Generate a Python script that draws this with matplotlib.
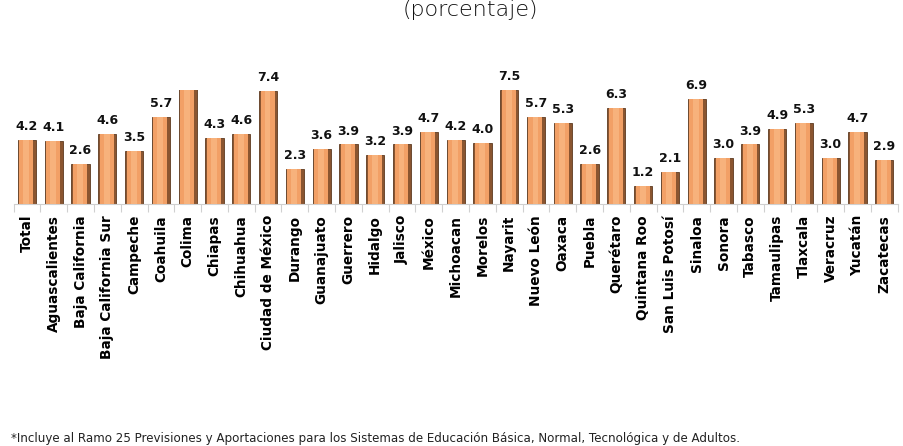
import matplotlib.pyplot as plt
import matplotlib.ticker as mticker
import numpy as np

# Entidades y valores (porcentaje)
entidades = ['Total', 'Aguascalientes', 'Baja California', 'Baja California Sur',
             'Campeche', 'Coahuila', 'Colima', 'Chiapas', 'Chihuahua',
             'Ciudad de México', 'Durango', 'Guanajuato', 'Guerrero', 'Hidalgo',
             'Jalisco', 'México', 'Michoacan', 'Morelos', 'Nayarit', 'Nuevo León',
             'Oaxaca', 'Puebla', 'Querétaro', 'Quintana Roo', 'San Luis Potosí',
             'Sinaloa', 'Sonora', 'Tabasco', 'Tamaulipas', 'Tlaxcala', 'Veracruz',
             'Yucatán', 'Zacatecas']
valores = [4.2, 4.1, 2.6, 4.6, 3.5, 5.7, 9.8, 4.3, 4.6, 7.4, 2.3, 3.6, 3.9, 3.2,
           3.9, 4.7, 4.2, 4.0, 7.5, 5.7, 5.3, 2.6, 6.3, 1.2, 2.1, 6.9, 3.0, 3.9,
           4.9, 5.3, 3.0, 4.7, 2.9]
# Colima se sale de la escala en el original: sin etiqueta
sin_etiqueta = ['Colima']
y_max = 7.5

fig = plt.figure(figsize=(9.04, 4.46), dpi=100)
ax = fig.add_axes([0.0150, 0.543, 0.978, 0.256])

x = np.arange(len(entidades))
# barra base (borde oscuro) + cuerpo claro para simular el bisel
ax.bar(x, valores, width=0.68, color='#8a5530', edgecolor='#5e3a20', linewidth=0.6, zorder=2)
ax.bar(x - 0.02, valores, width=0.52, color='#f2a066', linewidth=0, zorder=3)
ax.bar(x - 0.02, valores, width=0.22, color='#f7b27c', linewidth=0, zorder=4)

for xi, v, nombre in zip(x, valores, entidades):
    if nombre in sin_etiqueta:
        continue
    ax.annotate(f'{v:.1f}', (xi, v), xytext=(0, 5), textcoords='offset points',
                ha='center', va='bottom', fontsize=9, fontweight='bold',
                color='#111111', annotation_clip=False, clip_on=False)

ax.set_xlim(-0.5, len(entidades) - 0.5)
ax.set_ylim(0, y_max)
ax.set_yticks([])
ax.set_xticks(x)
ax.set_xticklabels(entidades, rotation=90, fontsize=9.8, fontweight='bold')
ax.tick_params(axis='x', which='major', length=0, pad=8)
ax.xaxis.set_minor_locator(mticker.FixedLocator(np.arange(-0.5, len(entidades), 1)))
ax.tick_params(axis='x', which='minor', length=6, color='#d0d0d0', width=0.8)
for s in ['top', 'right', 'left']:
    ax.spines[s].set_visible(False)
ax.spines['bottom'].set_color('#d0d0d0')
ax.spines['bottom'].set_linewidth(0.8)

fig.text(0.52, 1.0, '(porcentaje)', ha='center', va='top', fontsize=16,
         color='#111111', fontweight='light')
fig.text(0.012, 0.016, '*Incluye al Ramo 25 Previsiones y Aportaciones para los Sistemas '
         'de Educación Básica, Normal, Tecnológica y de Adultos.',
         ha='left', va='center', fontsize=8.6, color='#222222')

fig.savefig('out.png', dpi=100)
